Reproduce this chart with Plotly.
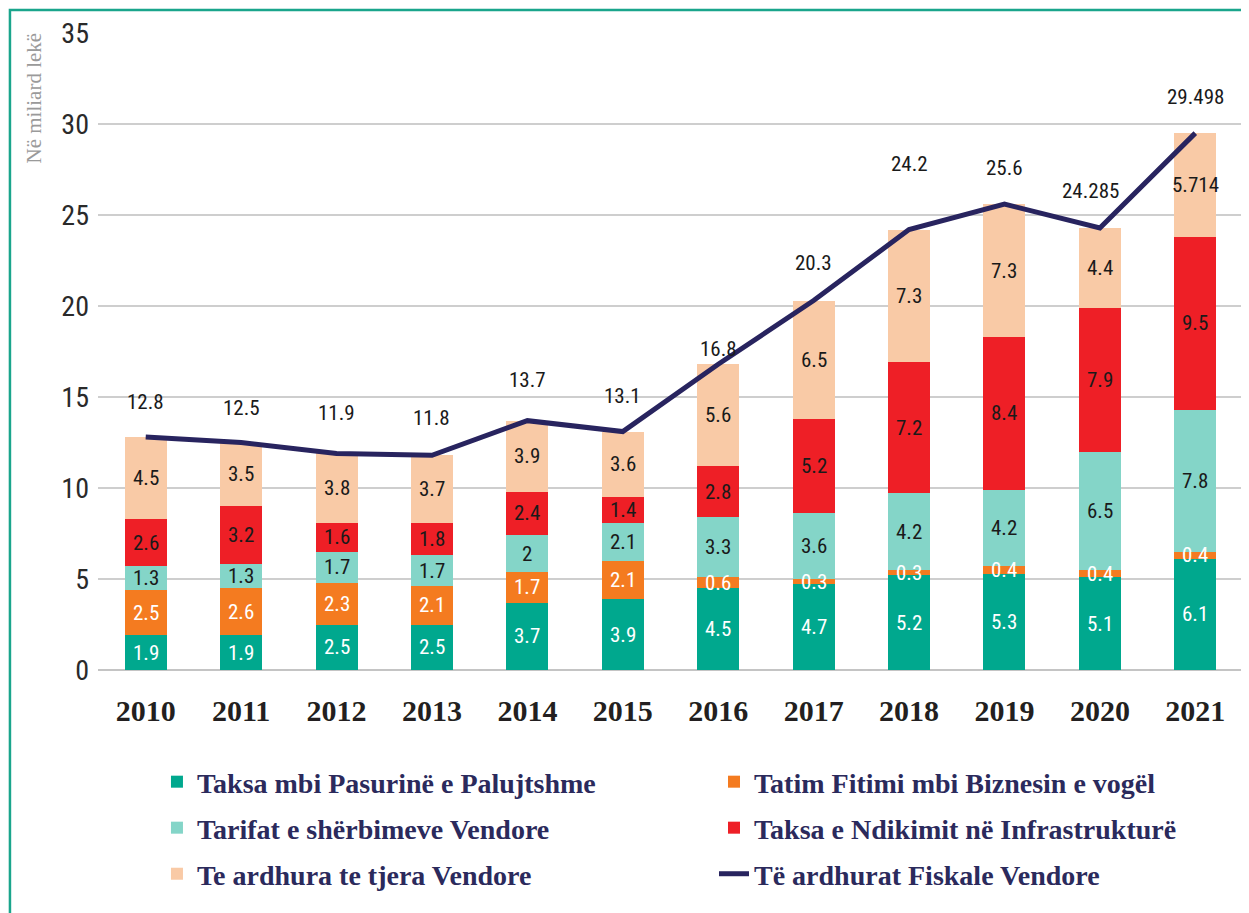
import plotly.graph_objects as go

years = ["2010", "2011", "2012", "2013", "2014", "2015", "2016", "2017", "2018", "2019", "2020", "2021"]
pasuri = [1.9, 1.9, 2.5, 2.5, 3.7, 3.9, 4.5, 4.7, 5.2, 5.3, 5.1, 6.1]
biznes = [2.5, 2.6, 2.3, 2.1, 1.7, 2.1, 0.6, 0.3, 0.3, 0.4, 0.4, 0.4]
tarifat = [1.3, 1.3, 1.7, 1.7, 2, 2.1, 3.3, 3.6, 4.2, 4.2, 6.5, 7.8]
ndikim = [2.6, 3.2, 1.6, 1.8, 2.4, 1.4, 2.8, 5.2, 7.2, 8.4, 7.9, 9.5]
tjera = [4.5, 3.5, 3.8, 3.7, 3.9, 3.6, 5.6, 6.5, 7.3, 7.3, 4.4, 5.714]
totals = [12.8, 12.5, 11.9, 11.8, 13.7, 13.1, 16.8, 20.3, 24.2, 25.6, 24.285, 29.498]
total_labels = ["12.8", "12.5", "11.9", "11.8", "13.7", "13.1", "16.8", "20.3", "24.2", "25.6", "24.285", "29.498"]

series = [
    ("Taksa mbi Pasurinë e Palujtshme", pasuri, "#00a88e", "white"),
    ("Tatim Fitimi mbi Biznesin e vogël", biznes, "#f47b20", "white"),
    ("Tarifat e shërbimeve Vendore", tarifat, "#84d5c8", "#1a1a1a"),
    ("Taksa e Ndikimit në Infrastrukturë", ndikim, "#ee1f26", "#1a1a1a"),
    ("Te ardhura te tjera Vendore", tjera, "#f9caa6", "#1a1a1a"),
]
line_name = "Të ardhurat Fiskale Vendore"

NUM_FONT = "Liberation Sans Narrow, Roboto Condensed, Arial Narrow, Roboto, sans-serif"
SERIF = "Liberation Serif, Times New Roman, serif"

fig = go.Figure()
for name, vals, color, tcolor in series:
    fig.add_trace(go.Bar(
        x=years, y=vals, name=name, showlegend=False,
        marker=dict(color=color, line=dict(width=0)),
        hoverinfo="skip",
    ))

fig.add_trace(go.Scatter(
    x=years, y=totals, name=line_name,
    mode="lines", line=dict(color="#28245f", width=5), showlegend=False,
))

# segment value labels, centred in each stacked segment
base = [0.0] * len(years)
for name, vals, color, tcolor in series:
    for i, v in enumerate(vals):
        fig.add_annotation(x=i, y=base[i] + v / 2, text="%g" % v, showarrow=False,
                           font=dict(family=NUM_FONT, size=21, color=tcolor))
        base[i] += v

# legend proxies, one legend per entry (2 columns x 3 rows)
legend_ids = ["legend", "legend2", "legend3", "legend4", "legend5", "legend6"]
for (name, vals, color, tcolor), lg in zip(series, legend_ids[:5]):
    fig.add_trace(go.Scatter(
        x=[None], y=[None], name=name, mode="markers", legend=lg,
        marker=dict(symbol="square", size=20, color=color),
    ))
fig.add_trace(go.Scatter(
    x=[None], y=[None], name=line_name, mode="lines", legend="legend6",
    line=dict(color="#28245f", width=6),
))

# total labels above the line (x as category index)
label_shift_y = [35, 35, 40, 37, 41, 36, 15, 38, 66, 36, 37, 36]
label_shift_x = [0, 0, 0, 0, 0, 0, 0, 0, 0, 0, -9, 0]
for i, (tot, lab, dy, dx) in enumerate(zip(totals, total_labels, label_shift_y, label_shift_x)):
    fig.add_annotation(x=i, y=tot, text=lab, showarrow=False,
                       yshift=dy, xshift=dx,
                       font=dict(family=NUM_FONT, size=21, color="#1a1a1a"))

# y-axis title
fig.add_annotation(xref="paper", yref="y", x=0, y=35, text="Në miliard lekë",
                   textangle=-90, showarrow=False, xanchor="center", yanchor="top",
                   xshift=-65, yshift=2,
                   font=dict(family=SERIF, size=21, color="#9a9a9a"))

# teal frame
fig.add_shape(type="rect", xref="paper", yref="paper",
              x0=-0.0769, x1=1.2, y0=-0.6, y1=1.0361,
              line=dict(color="#1aa58c", width=2.5), fillcolor="rgba(0,0,0,0)", layer="below")

leg_font = dict(family=SERIF, size=28, color="#2b2a5c", weight="bold")
col_x = [0.0515, 0.538]
row_y = [-0.1758, -0.248, -0.3203]
legends = {}
for k, lg in enumerate(legend_ids):
    legends[lg] = dict(orientation="h", x=col_x[k % 2], xanchor="left",
                       y=row_y[k // 2], yanchor="middle",
                       bgcolor="rgba(0,0,0,0)", font=leg_font, itemsizing="constant")

fig.update_layout(
    width=1241, height=905,
    margin=dict(l=90, r=6, t=25, b=243, autoexpand=False),
    barmode="stack", bargap=0.56,
    plot_bgcolor="white", paper_bgcolor="white",
    showlegend=True,
    xaxis=dict(type="category", range=[-0.5, len(years) - 0.5], autorange=False,
               showgrid=False, showline=False, ticks="", automargin=False,
               ticklabelstandoff=20,
               tickfont=dict(family=SERIF, size=30, color="#231f20", weight="bold")),
    yaxis=dict(range=[0, 35], autorange=False, dtick=5, showgrid=True,
               gridcolor="rgba(190,190,190,0.75)", automargin=False,
               gridwidth=2, zeroline=True, zerolinecolor="rgba(190,190,190,0.9)", zerolinewidth=2,
               layer="above traces", ticks="", ticklabelstandoff=8,
               tickfont=dict(family=NUM_FONT, size=28, color="#2a2a2a")),
    **legends,
)

fig.write_html("out.html")
